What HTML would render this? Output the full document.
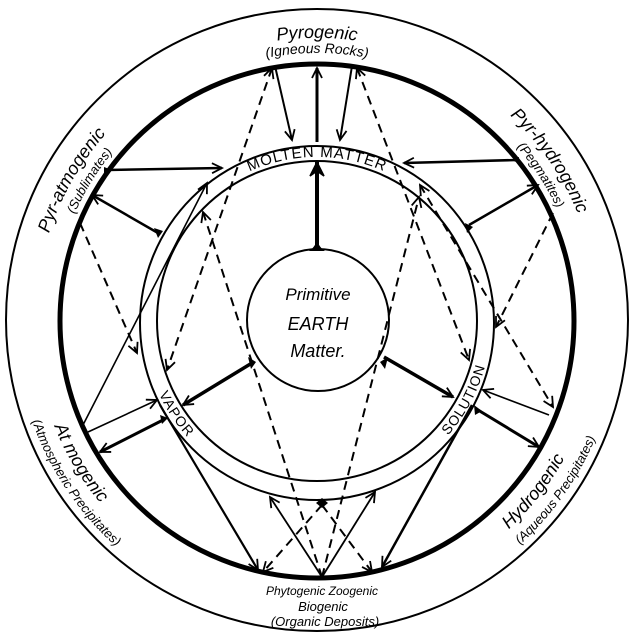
<!DOCTYPE html>
<html><head><meta charset="utf-8"><style>
html,body{margin:0;padding:0;background:#fff;}
svg{display:block;}
text{font-family:"Liberation Sans",sans-serif;fill:#000;}
.it{font-style:italic;}
</style></head><body>
<svg width="633" height="640" viewBox="0 0 633 640" xmlns="http://www.w3.org/2000/svg">
<defs>
<marker id="a" markerUnits="userSpaceOnUse" markerWidth="14" markerHeight="14" refX="11" refY="6" orient="auto-start-reverse" viewBox="0 0 14 12">
<path d="M1,1 L11,6 L1,11" fill="none" stroke="#000" stroke-width="1.8"/></marker>
<marker id="b" markerUnits="userSpaceOnUse" markerWidth="18" markerHeight="18" refX="15" refY="8" orient="auto-start-reverse" viewBox="0 0 18 16">
<path d="M1,1 L15,8 L1,15 L6,8 z" fill="#000" stroke="#000" stroke-width="1.5"/></marker>
<path id="cw283" d="M34,321 A283,283 0 1 1 600,321 A283,283 0 1 1 34,321"/>
<path id="cw268" d="M49,321 A268,268 0 1 1 585,321 A268,268 0 1 1 49,321"/>
<path id="cw282" d="M35,321 A282,282 0 1 1 599,321 A282,282 0 1 1 35,321"/>
<path id="cw265" d="M52,321 A265,265 0 1 1 582,321 A265,265 0 1 1 52,321"/>
<path id="cw164" d="M153,321 A164,164 0 1 1 481,321 A164,164 0 1 1 153,321"/>
<path id="ccw283" d="M34,321 A283,283 0 1 0 600,321 A283,283 0 1 0 34,321"/>
<path id="ccw302" d="M15,321 A302,302 0 1 0 619,321 A302,302 0 1 0 15,321"/>
<path id="ccw174" d="M143,321 A174,174 0 1 0 491,321 A174,174 0 1 0 143,321"/>
</defs>

<circle cx="317" cy="320" r="311" fill="none" stroke="#000" stroke-width="2"/>
<circle cx="317" cy="321" r="257" fill="none" stroke="#000" stroke-width="5"/>
<circle cx="317" cy="323" r="177" fill="none" stroke="#000" stroke-width="2"/>
<circle cx="317" cy="321" r="160" fill="none" stroke="#000" stroke-width="2"/>
<circle cx="318" cy="320" r="71" fill="none" stroke="#000" stroke-width="2"/>

<g stroke="#000" fill="none" stroke-width="2">
<line x1="275" y1="66" x2="292" y2="140" marker-end="url(#a)"/>
<line x1="317" y1="142" x2="317" y2="68" stroke-width="3" marker-end="url(#a)"/>
<line x1="352" y1="66" x2="340" y2="140" marker-end="url(#a)"/>
<line x1="272" y1="68" x2="167" y2="370" stroke-dasharray="9,6" marker-start="url(#a)" marker-end="url(#a)"/>
<line x1="357" y1="68" x2="469" y2="360" stroke-dasharray="9,6" marker-start="url(#a)" marker-end="url(#a)"/>
<line x1="107" y1="170" x2="222" y2="168" stroke-width="2.5" marker-end="url(#a)"/>
<line x1="158" y1="233" x2="92" y2="195" stroke-width="2.5" marker-end="url(#a)"/>
<line x1="80" y1="223" x2="137" y2="353" stroke-dasharray="9,6" marker-end="url(#a)"/>
<line x1="83" y1="425" x2="207" y2="183" stroke-width="1.6" marker-end="url(#a)"/>
<line x1="88" y1="432" x2="157" y2="400" stroke-width="1.6" marker-end="url(#a)"/>
<line x1="163" y1="420" x2="100" y2="452" stroke-width="3" marker-end="url(#a)"/>
<line x1="322" y1="577" x2="203" y2="212" stroke-dasharray="9,6" marker-end="url(#a)"/>
<line x1="252" y1="363" x2="183" y2="405" stroke-width="3.5" marker-end="url(#a)"/>
<line x1="516" y1="160" x2="404" y2="163" stroke-width="2.5" marker-end="url(#a)"/>
<line x1="469" y1="225" x2="538" y2="185" stroke-width="2.5" marker-end="url(#a)"/>
<line x1="553" y1="213" x2="496" y2="327" stroke-dasharray="9,6" marker-end="url(#a)"/>
<line x1="420" y1="185" x2="553" y2="407" stroke-dasharray="9,6" marker-start="url(#a)" marker-end="url(#a)"/>
<line x1="322" y1="577" x2="419" y2="197" stroke-dasharray="9,6" marker-end="url(#a)"/>
<line x1="384" y1="357" x2="453" y2="397" stroke-width="3.5" marker-end="url(#a)"/>
<line x1="549" y1="415" x2="483" y2="390" stroke-width="1.6" marker-end="url(#a)"/>
<line x1="478" y1="410" x2="539" y2="447" stroke-width="3" marker-end="url(#a)"/>
<line x1="160" y1="405" x2="258" y2="570" stroke-width="2.2" marker-end="url(#a)"/>
<line x1="472" y1="405" x2="382" y2="567" stroke-width="2.5" marker-end="url(#a)"/>
<line x1="322" y1="577" x2="270" y2="497" stroke-width="1.8" marker-end="url(#a)"/>
<line x1="322" y1="577" x2="375" y2="492" stroke-width="1.8" marker-end="url(#a)"/>
<line x1="322" y1="505" x2="263" y2="572" stroke-dasharray="9,6" marker-end="url(#a)"/>
<line x1="322" y1="505" x2="372" y2="572" stroke-dasharray="9,6" marker-end="url(#a)"/>
<line x1="317" y1="249" x2="317" y2="162" stroke-width="4" marker-end="url(#b)"/>
</g>
<g fill="#000">
<path d="M309,251 Q317,246 317,236 Q317,246 325,251 z"/>
<path d="M248,357 L256,362 L251,369 z"/>
<path d="M388,357 L380,362 L385,369 z"/>
<path d="M154,228 L163,231 L158,238 z"/>
<path d="M160,415 L168,418 L162,424 z"/>
<path d="M465,223 L473,227 L467,233 z"/>
<path d="M474,405 L482,411 L475,415 z"/>
<path d="M316,503 L322,498 L328,503 L322,508 z"/>
<path d="M104,167 L112,170 L104,173 z"/>
<path d="M519,157 L511,160 L519,163 z"/>
</g>

<text class="it" font-size="18" text-anchor="middle"><textPath href="#cw283" startOffset="25%">Pyrogenic</textPath></text>
<text class="it" font-size="14" text-anchor="middle"><textPath href="#cw268" startOffset="25%">(Igneous Rocks)</textPath></text>
<text class="it" font-size="18" text-anchor="middle"><textPath href="#cw282" startOffset="8.3%">Pyr-atmogenic</textPath></text>
<text class="it" font-size="13" text-anchor="middle"><textPath href="#cw265" startOffset="8.8%">(Sublimates)</textPath></text>
<text class="it" font-size="18" text-anchor="middle"><textPath href="#cw282" startOffset="40.4%">Pyr-hydrogenic</textPath></text>
<text class="it" font-size="13" text-anchor="middle"><textPath href="#cw265" startOffset="40.8%">(Pegmatites)</textPath></text>
<text class="it" font-size="18" text-anchor="middle"><textPath href="#ccw283" startOffset="39.4%">Hydrogenic</textPath></text>
<text class="it" font-size="13" text-anchor="middle"><textPath href="#ccw302" startOffset="40.2%">(Aqueous Precipitates)</textPath></text>
<text class="it" font-size="18" text-anchor="middle"><textPath href="#ccw283" startOffset="8.6%">At mogenic</textPath></text>
<text class="it" font-size="13" text-anchor="middle"><textPath href="#ccw302" startOffset="9.4%">(Atmospheric Precipitates)</textPath></text>
<text font-size="15" text-anchor="middle" letter-spacing="1"><textPath href="#cw164" startOffset="25%">MOLTEN MATTER</textPath></text>
<text font-size="14" text-anchor="middle" letter-spacing="1"><textPath href="#ccw174" startOffset="9.3%">VAPOR</textPath></text>
<text font-size="14" text-anchor="middle" letter-spacing="1"><textPath href="#ccw174" startOffset="42.2%">SOLUTION</textPath></text>

<text class="it" font-size="12" x="322" y="595" text-anchor="middle">Phytogenic  Zoogenic</text>
<text class="it" font-size="13" x="323" y="611" text-anchor="middle">Biogenic</text>
<text class="it" font-size="13" x="325" y="626" text-anchor="middle">(Organic Deposits)</text>

<text class="it" font-size="17" x="318" y="300" text-anchor="middle">Primitive</text>
<text class="it" font-size="18" x="318" y="330" text-anchor="middle">EARTH</text>
<text class="it" font-size="18" x="318" y="357" text-anchor="middle">Matter.</text>
</svg>
</body></html>
